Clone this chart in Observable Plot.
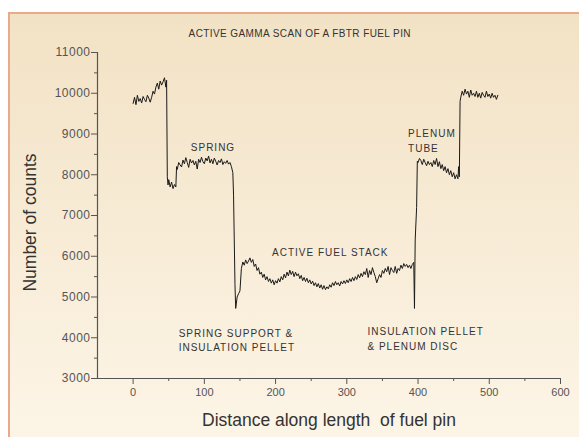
<!DOCTYPE html>
<html>
<head>
<meta charset="utf-8">
<script src="https://cdn.jsdelivr.net/npm/d3@7"></script>
<script src="https://cdn.jsdelivr.net/npm/@observablehq/plot@0.6"></script>
<style>
  html, body { margin: 0; padding: 0; background: #fff; }
  #wrap { position: relative; width: 579px; height: 437px; overflow: hidden; background: #fff; }
  #frame { position: absolute; left: 8px; top: 12px; width: 600px; height: 460px;
           border: 2px solid #e9a98a; box-sizing: border-box;
           background: linear-gradient(to bottom, #f2e2c5 0%, #f8ecd7 50%, #fdf6e9 100%); }
  #chart { position: absolute; left: 0; top: 0; }
  #chart svg { background: transparent !important; }
  #chart text { white-space: pre; }
</style>
</head>
<body>
<div id="wrap"><div id="frame"></div><div id="chart"></div></div>
<script>
const positions = [
  0, 2, 4, 6, 8, 10, 12, 14, 16, 18,
  20, 22, 24, 26, 28, 30, 32, 34, 36, 38,
  40, 42, 44, 46, 47, 48, 49, 50, 52, 54,
  56, 58, 60, 61, 62, 64, 66, 68, 70, 72,
  74, 76, 78, 80, 82, 84, 86, 88, 90, 92,
  94, 96, 98, 100, 102, 104, 106, 108, 110, 112,
  114, 116, 118, 120, 122, 124, 126, 128, 130, 132,
  134, 136, 138, 140, 141, 142, 143, 144, 145, 146,
  148, 150, 152, 154, 156, 158, 160, 162, 164, 166,
  168, 170, 172, 174, 176, 178, 180, 182, 184, 186,
  188, 190, 192, 194, 196, 198, 200, 202, 204, 206,
  208, 210, 212, 214, 216, 218, 220, 222, 224, 226,
  228, 230, 232, 234, 236, 238, 240, 242, 244, 246,
  248, 250, 252, 254, 256, 258, 260, 262, 264, 266,
  268, 270, 272, 274, 276, 278, 280, 282, 284, 286,
  288, 290, 292, 294, 296, 298, 300, 302, 304, 306,
  308, 310, 312, 314, 316, 318, 320, 322, 324, 326,
  328, 330, 332, 334, 336, 338, 340, 342, 344, 346,
  348, 350, 352, 354, 356, 358, 360, 362, 364, 366,
  368, 370, 372, 374, 376, 378, 380, 382, 384, 386,
  388, 390, 392, 394, 395, 396, 398, 399, 400, 402,
  404, 406, 408, 410, 412, 414, 416, 418, 420, 422,
  424, 426, 428, 430, 432, 434, 436, 438, 440, 442,
  444, 446, 448, 450, 452, 454, 456, 457, 458, 459,
  460, 462, 464, 466, 468, 470, 472, 474, 476, 478,
  480, 482, 484, 486, 488, 490, 492, 494, 496, 498,
  500, 502, 504, 506, 508, 510, 512
];
const counts = [
  9750, 9900, 9720, 9950, 9800, 9870, 9760, 9920, 9850, 9790,
  9950, 9880, 9780, 9900, 10050, 9980, 10150, 10250, 10100, 10300,
  10200, 10280, 10380, 10150, 10320, 7950, 7750, 7880, 7700, 7820,
  7660, 7760, 7700, 8200, 8130, 8300, 8240, 8190, 8360, 8270,
  8420, 8300, 8180, 8380, 8290, 8350, 8240, 8330, 8140, 8380,
  8300, 8430, 8320, 8270, 8410, 8340, 8460, 8290, 8380, 8270,
  8410, 8330, 8240, 8350, 8300, 8390, 8250, 8320, 8280, 8350,
  8260, 8300, 8200, 8050, 7500, 6400, 5300, 4720, 4850, 5000,
  5080, 5150, 5700, 5860, 5780, 5910, 5820, 5880, 5960, 5850,
  5920, 5750, 5810, 5650, 5720, 5560, 5610, 5480, 5560, 5420,
  5500, 5380, 5450, 5340, 5420, 5300, 5400, 5340, 5450, 5370,
  5500, 5420, 5560, 5470, 5610, 5520, 5660, 5550, 5630, 5500,
  5610, 5520, 5570, 5450, 5530, 5400, 5480, 5380, 5460, 5350,
  5420, 5320, 5390, 5280, 5350, 5250, 5330, 5220, 5300, 5190,
  5280, 5180, 5250, 5200, 5300, 5240, 5350, 5280, 5380, 5300,
  5350, 5270, 5380, 5320, 5400, 5330, 5420, 5350, 5450, 5380,
  5480, 5400, 5500, 5430, 5550, 5470, 5580, 5500, 5620, 5550,
  5700, 5480, 5650, 5550, 5720, 5600, 5500, 5350, 5450, 5550,
  5480, 5650, 5580, 5700, 5620, 5750, 5550, 5720, 5650, 5600,
  5750, 5580, 5700, 5650, 5780, 5700, 5820, 5750, 5800, 5720,
  5780, 5700, 5800, 5850, 4720, 6400, 7200, 8330, 8300, 8400,
  8350, 8250, 8380, 8300, 8220, 8330, 8250, 8300, 8200, 8350,
  8250, 8400, 8200, 8320, 8150, 8250, 8100, 8200, 8050, 8150,
  8000, 8100, 7950, 8050, 7900, 8000, 7900, 8200, 7950, 9800,
  9900, 10050, 9950, 10100, 9980, 10050, 9900, 10080, 9950, 10000,
  9920, 10050, 9900, 10000, 9880, 10020, 9950, 9900, 10050, 9920,
  9980, 9880, 10000, 9900, 9950, 9850, 9950
];

const xMajorTicks = [0, 100, 200, 300, 400, 500, 600];
const xMinorTicks = [50, 150, 250, 350, 450, 550];
const yMajorTicks = [3000, 4000, 5000, 6000, 7000, 8000, 9000, 10000, 11000];
const yMinorTicks = [3500, 4500, 5500, 6500, 7500, 8500, 9500, 10500];

const titleText = "ACTIVE GAMMA SCAN OF A FBTR FUEL PIN";
const xLabel = "Distance along length  of fuel pin";
const yLabel = "Number of counts";

// annotation labels, anchored at data coordinates (distance, counts)
const annotations = [
  {text: "SPRING", x: 81, y: 8669},
  {text: "SPRING SUPPORT &", x: 64, y: 4104},
  {text: "INSULATION PELLET", x: 64, y: 3760},
  {text: "ACTIVE FUEL STACK", x: 195, y: 6092},
  {text: "INSULATION PELLET", x: 329, y: 4153},
  {text: "& PLENUM DISC", x: 329, y: 3785},
  {text: "PLENUM", x: 386, y: 9012},
  {text: "TUBE", x: 386, y: 8644}
];

const table = positions.map((p, i) => ({x: p, y: counts[i]}));
const axisColor = "#555";
const font = "'Liberation Sans', Arial, sans-serif";

const chart = Plot.plot({
  width: 579,
  height: 437,
  marginLeft: 97,
  marginRight: 19,
  marginTop: 52,
  marginBottom: 59,
  style: {background: "transparent", fontFamily: font, color: "#444", overflow: "visible"},
  x: {domain: [-50, 600]},
  y: {domain: [3000, 11000]},
  marks: [
    Plot.ruleY([3000], {x1: -50, x2: 600, stroke: axisColor, strokeWidth: 1.2}),
    Plot.ruleX([-50], {y1: 3000, y2: 11000, stroke: axisColor, strokeWidth: 1.2}),
    Plot.axisX({ticks: xMajorTicks, tickSize: 6, tickPadding: 4, tickFormat: d => String(d), fontSize: 11, stroke: axisColor, fill: "#555", label: null}),
    Plot.axisX({ticks: xMinorTicks, tickSize: 3, text: null, stroke: axisColor, label: null}),
    Plot.axisY({ticks: yMajorTicks, tickSize: 6, tickPadding: 1, tickFormat: d => String(d), fontSize: 12, stroke: axisColor, fill: "#555", label: null}),
    Plot.axisY({ticks: yMinorTicks, tickSize: 3, text: null, stroke: axisColor, label: null}),
    Plot.line(table, {x: "x", y: "y", stroke: "#1a1a1a", strokeWidth: 1}),
    Plot.text(annotations, {x: "x", y: "y", text: "text", textAnchor: "start", fontSize: 10, fill: "#333"}),
    Plot.text([titleText], {x: [234], y: [11466], text: d => d, fontSize: 10, fill: "#333"}),
    Plot.text([xLabel], {frameAnchor: "bottom", dy: 42, lineAnchor: "middle", text: d => d, fontSize: 17.5, fill: "#333"}),
    Plot.text([yLabel], {frameAnchor: "left", dx: -67, dy: 7, rotate: -90, textAnchor: "middle", text: d => d, fontSize: 17.5, fill: "#333"})
  ]
});
document.getElementById("chart").appendChild(chart);
// letter spacing on specific labels
const svg = d3.select(chart);
svg.selectAll("text").each(function() {
  const t = this.textContent;
  const el = d3.select(this);
  if (t === titleText) el.style("letter-spacing", "0.4px");
  else if (annotations.some(a => a.text === t)) el.style("letter-spacing", "1px");
  else if (yMajorTicks.map(String).includes(t) && this.closest('g[aria-label="y-axis tick label"]')) el.style("letter-spacing", "0.5px");
});
</script>
</body>
</html>
